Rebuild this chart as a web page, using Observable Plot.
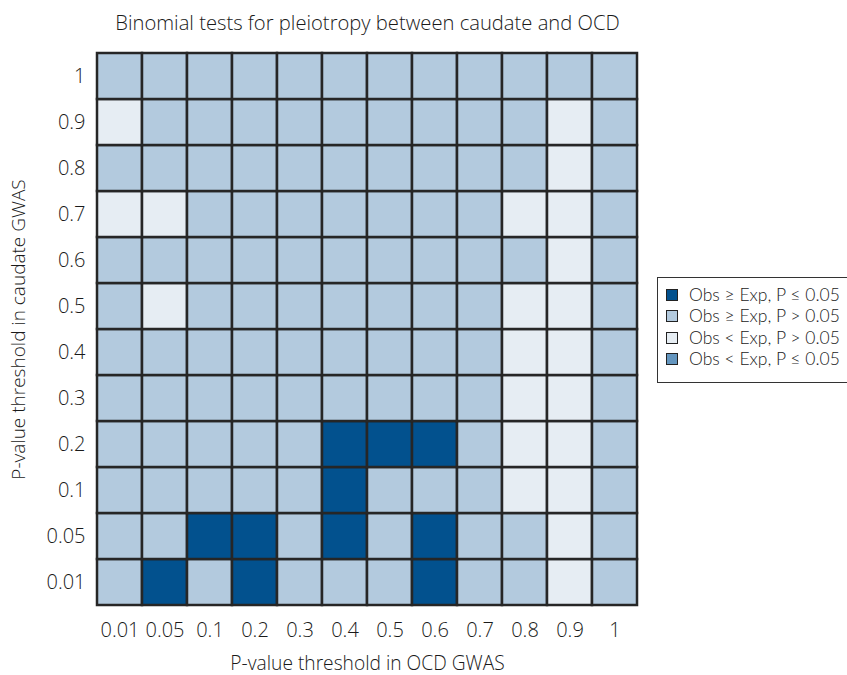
<!DOCTYPE html>
<html>
<head>
<meta charset="utf-8">
<script src="https://cdn.jsdelivr.net/npm/d3@7"></script>
<script src="https://cdn.jsdelivr.net/npm/@observablehq/plot@0.6"></script>
<style>
  html, body { margin: 0; padding: 0; background: #fff; }
  #wrap { position: relative; width: 847px; height: 675px; }
  #legend {
    position: absolute; left: 657px; top: 277px; width: 200px; height: 106px;
    border: 1px solid #333; box-sizing: border-box; background: #fff;
    font-family: Lato, "Liberation Sans", sans-serif; font-weight: 300; font-size: 17.5px; color: #1a1a1a;
    padding: 6px 0 0 8px;
  }
  .item { display: flex; align-items: center; height: 21.5px; white-space: nowrap; }
  .item .lab { display: inline-block; line-height: 20px; }
  .sw { width: 10px; height: 10px; border: 1.5px solid #222; margin-right: 11px; flex: none; }
</style>
</head>
<body>
<div id="wrap"></div>
<script>
const thresholds = ["0.01","0.05","0.1","0.2","0.3","0.4","0.5","0.6","0.7","0.8","0.9","1"];
const categories = ["Obs ≥ Exp, P ≤ 0.05","Obs ≥ Exp, P > 0.05","Obs < Exp, P > 0.05","Obs < Exp, P ≤ 0.05"];
const colors = ["#02518e","#b3cade","#e6edf3","#6496bf"];
const titleText = "Binomial tests for pleiotropy between caudate and OCD";
const xLabel = "P-value threshold in OCD GWAS";
const yLabel = "P-value threshold in caudate GWAS";

// status code per OCD threshold (index into categories), one array per caudate threshold
const row_0_01 = [1,0,1,0,1,1,1,0,1,1,2,1];
const row_0_05 = [1,1,0,0,1,0,1,0,1,1,2,1];
const row_0_1  = [1,1,1,1,1,0,1,1,1,2,2,1];
const row_0_2  = [1,1,1,1,1,0,0,0,1,2,2,1];
const row_0_3  = [1,1,1,1,1,1,1,1,1,2,2,1];
const row_0_4  = [1,1,1,1,1,1,1,1,1,2,2,1];
const row_0_5  = [1,2,1,1,1,1,1,1,1,2,2,1];
const row_0_6  = [1,1,1,1,1,1,1,1,1,1,2,1];
const row_0_7  = [2,2,1,1,1,1,1,1,1,2,2,1];
const row_0_8  = [1,1,1,1,1,1,1,1,1,1,2,1];
const row_0_9  = [2,1,1,1,1,1,1,1,1,1,2,1];
const row_1    = [1,1,1,1,1,1,1,1,1,1,1,1];
const rows = [row_0_01,row_0_05,row_0_1,row_0_2,row_0_3,row_0_4,row_0_5,row_0_6,row_0_7,row_0_8,row_0_9,row_1];

const data = [];
rows.forEach((r, i) => r.forEach((c, j) => data.push({caudate: thresholds[i], ocd: thresholds[j], status: categories[c]})));

const font = '"Open Sans", sans-serif';
const chart = Plot.plot({
  width: 847, height: 675,
  marginLeft: 94, marginRight: 207, marginTop: 50, marginBottom: 67,
  style: {fontFamily: font, fontSize: "20px", fontWeight: 300, color: "#1a1a1a", background: "#fff"},
  x: {domain: thresholds, padding: 0},
  y: {domain: [...thresholds].reverse(), padding: 0},
  color: {domain: categories, range: colors},
  marks: [
    Plot.cell(data, {x: "ocd", y: "caudate", fill: "status", stroke: "#262626", strokeWidth: 2.5}),
    Plot.axisX({tickSize: 0, tickPadding: 14, fontSize: 20, label: null}),
    Plot.axisY({tickSize: 0, tickPadding: 9, fontSize: 20, label: null}),
    Plot.text([titleText], {frameAnchor: "top", textAnchor: "middle", lineAnchor: "middle", dy: -27, fontSize: 20.2}),
    Plot.text([xLabel], {frameAnchor: "bottom", textAnchor: "middle", lineAnchor: "middle", dy: 55, fontSize: 19.2}),
    Plot.text([yLabel], {frameAnchor: "left", textAnchor: "middle", lineAnchor: "middle", dx: -76, rotate: -90, fontSize: 19})
  ]
});
const wrap = document.getElementById("wrap");
wrap.appendChild(chart);

const legend = document.createElement("div");
legend.id = "legend";
categories.forEach((c, i) => {
  const it = document.createElement("div");
  it.className = "item";
  const sw = document.createElement("span");
  sw.className = "sw";
  sw.style.background = colors[i];
  const t = document.createElement("span");
  t.className = "lab";
  t.textContent = c;
  it.appendChild(sw); it.appendChild(t);
  legend.appendChild(it);
});
wrap.appendChild(legend);
</script>
</body>
</html>
